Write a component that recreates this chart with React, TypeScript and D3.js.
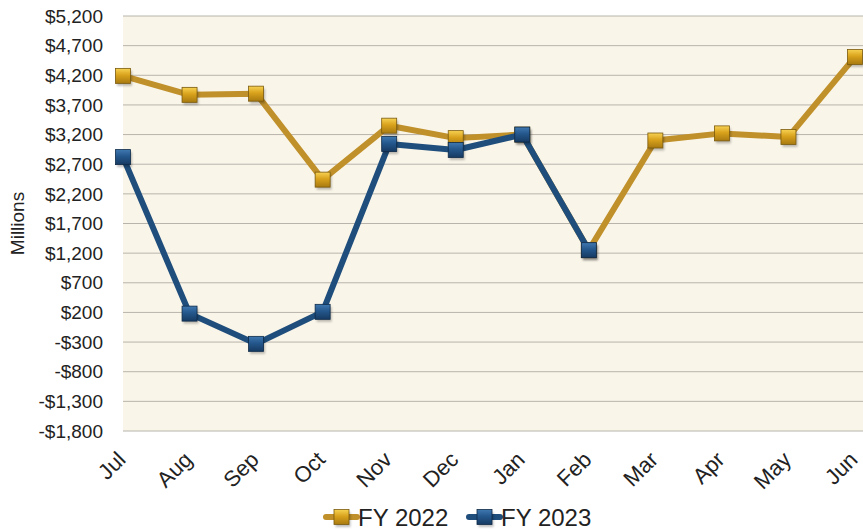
import React from "react";
import * as d3 from "d3";

const months = ["Jul", "Aug", "Sep", "Oct", "Nov", "Dec", "Jan", "Feb", "Mar", "Apr", "May", "Jun"];
const fy2022 = [4190, 3870, 3890, 2440, 3350, 3140, 3200, 1250, 3100, 3220, 3160, 4510];
const fy2023 = [2820, 180, -330, 210, 3040, 2940, 3200, 1250];
const yTicks = [5200, 4700, 4200, 3700, 3200, 2700, 2200, 1700, 1200, 700, 200, -300, -800, -1300, -1800];

const W = 863;
const H = 532;
const margin = { top: 16, right: 8, bottom: 101, left: 123 };

const fmt = (v: number) => (v < 0 ? "-$" : "$") + d3.format(",")(Math.abs(v));

const Marker = ({ x, y, fill }: { x: number; y: number; fill: string }) => (
  <g transform={`translate(${x},${y})`}>
    <rect x={-6} y={-5} width={15} height={15} fill="rgba(0,0,0,0.25)" filter="url(#blur)" />
    <rect x={-7.5} y={-7.5} width={15} height={15} fill={`url(#${fill})`} stroke={fill === "gold" ? "#7a5a0e" : "#0e2a48"} strokeWidth={0.8} />
  </g>
);

const App = () => {
  const x = d3
    .scalePoint<string>()
    .domain(months)
    .range([margin.left, W - margin.right]);
  const y = d3
    .scaleLinear()
    .domain([-1800, 5200])
    .range([H - margin.bottom, margin.top]);

  const line = d3
    .line<number>()
    .x((_, i) => x(months[i]) as number)
    .y((d) => y(d));

  const series = [
    { name: "FY 2022", data: fy2022, color: "#C0902A", grad: "gold" },
    { name: "FY 2023", data: fy2023, color: "#1F4E7C", grad: "blue" },
  ];

  return (
    <svg width={W} height={H} style={{ position: "absolute", left: 0, top: 0, fontFamily: "'Liberation Sans', Arial, sans-serif" }}>
      <defs>
        <linearGradient id="gold" x1="0" y1="0" x2="0" y2="1">
          <stop offset="0" stopColor="#f7d253" />
          <stop offset="0.45" stopColor="#d9a21c" />
          <stop offset="1" stopColor="#a87a10" />
        </linearGradient>
        <linearGradient id="blue" x1="0" y1="0" x2="0" y2="1">
          <stop offset="0" stopColor="#3f78b0" />
          <stop offset="0.45" stopColor="#24578c" />
          <stop offset="1" stopColor="#163a62" />
        </linearGradient>
        <filter id="blur" x="-50%" y="-50%" width="200%" height="200%">
          <feGaussianBlur stdDeviation="1.2" />
        </filter>
      </defs>
      <rect x={0} y={0} width={W} height={H} fill="#ffffff" />
      <rect
        x={margin.left}
        y={margin.top}
        width={W - margin.left}
        height={y(-1800) - margin.top}
        fill="#faf5e9"
      />
      {yTicks.map((t) => (
        <g key={t}>
          <line x1={margin.left} x2={W} y1={y(t)} y2={y(t)} stroke="#b8b4ac" strokeWidth={1} />
          <text x={103} y={y(t)} dy="0.35em" textAnchor="end" fontSize={19} fill="#222">
            {fmt(t)}
          </text>
        </g>
      ))}
      <text transform={`translate(24,${(margin.top + y(-1800)) / 2}) rotate(-90)`} textAnchor="middle" fontSize={19} fill="#222">
        Millions
      </text>
      {months.map((m) => (
        <text
          key={m}
          transform={`translate(${(x(m) as number) + 4},${461}) rotate(-45)`}
          textAnchor="end"
          fontSize={22}
          fill="#222"
        >
          {m}
        </text>
      ))}
      {series.map((s) => (
        <g key={s.name}>
          <path d={line(s.data) || ""} fill="none" stroke={s.color} strokeWidth={6} strokeLinejoin="round" />
          {s.data.map((d, i) => (
            <Marker key={i} x={x(months[i]) as number} y={y(d)} fill={s.grad} />
          ))}
        </g>
      ))}
      {series.map((s, i) => {
        const lx = 326 + i * 143;
        return (
          <g key={s.name}>
            <line x1={lx} x2={lx + 31} y1={517} y2={517} stroke={s.color} strokeWidth={6} strokeLinecap="round" />
            <Marker x={lx + 15.5} y={517} fill={s.grad} />
            <text x={lx + 32} y={517} dy="0.36em" fontSize={24} fill="#222">
              {s.name}
            </text>
          </g>
        );
      })}
    </svg>
  );
};

export default App;
